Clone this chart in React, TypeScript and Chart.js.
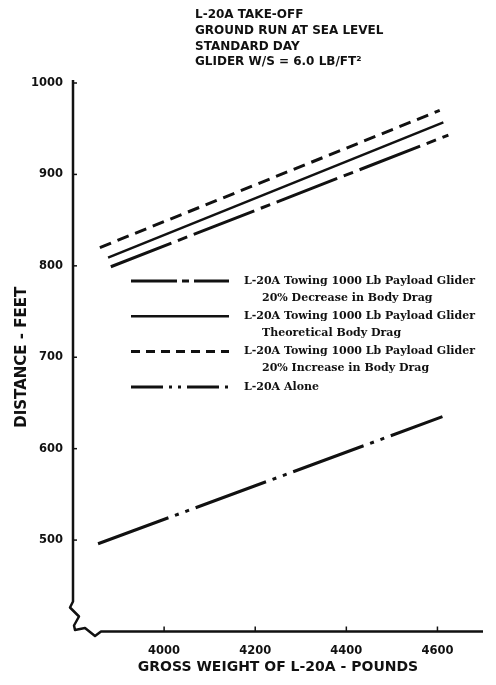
import React, { useEffect, useRef } from "react";
import { Chart, registerables } from "chart.js";

Chart.register(...registerables);

const INK = "#111111";

const titleLines = ["L-20A TAKE-OFF", "GROUND RUN AT SEA LEVEL", "STANDARD DAY", "GLIDER W/S = 6.0 LB/FT²"];
const xAxisTitle = "GROSS WEIGHT OF L-20A - POUNDS";
const yAxisTitle = "DISTANCE - FEET";
const xTickValues = [4000, 4200, 4400, 4600];
const yTickValues = [500, 600, 700, 800, 900, 1000];

const decreaseLabel = ["L-20A Towing 1000 Lb Payload Glider", "20% Decrease in Body Drag"];
const decreaseWeight = [3883, 4624];
const decreaseDistance = [799, 943];

const theoreticalLabel = ["L-20A Towing 1000 Lb Payload Glider", "Theoretical Body Drag"];
const theoreticalWeight = [3877, 4613];
const theoreticalDistance = [809, 957];

const increaseLabel = ["L-20A Towing 1000 Lb Payload Glider", "20% Increase in Body Drag"];
const increaseWeight = [3859, 4605];
const increaseDistance = [820, 970];

const aloneLabel = ["L-20A Alone"];
const aloneWeight = [3855, 4611];
const aloneDistance = [496, 635];

const legendLabels = [decreaseLabel, theoreticalLabel, increaseLabel, aloneLabel];
const legendDashes = [[46, 5, 7, 5], [], [9, 6], [32, 6, 3, 6, 3, 6]];
const legendWidths = [3, 2.5, 3, 3];

const toPoints = (xs: number[], ys: number[]) => xs.map((x, i) => ({ x, y: ys[i] }));

const decorPlugin = {
  id: "decor",
  afterDraw(chart: any) {
    const { ctx, chartArea: ca, scales } = chart;
    const xs = scales.x;
    const ys = scales.y;
    const L = ca.left;
    const B = ca.bottom;
    ctx.save();
    ctx.strokeStyle = INK;
    ctx.fillStyle = INK;
    ctx.lineWidth = 2.5;
    ctx.lineJoin = "round";
    ctx.setLineDash([]);
    // axes with break
    ctx.beginPath();
    ctx.moveTo(L, ca.top - 3);
    ctx.lineTo(L, B - 30);
    ctx.lineTo(L - 3, B - 24);
    ctx.lineTo(L + 6, B - 15);
    ctx.lineTo(L + 1, B - 6);
    ctx.lineTo(L + 2, B - 1.5);
    ctx.lineTo(L + 12, B - 3.5);
    ctx.lineTo(L + 22, B + 4.5);
    ctx.lineTo(L + 28, B);
    ctx.lineTo(ca.right, B);
    ctx.stroke();
    // tick marks
    ctx.lineWidth = 1.5;
    yTickValues.forEach((v) => {
      const py = ys.getPixelForValue(v);
      ctx.beginPath();
      ctx.moveTo(L, py);
      ctx.lineTo(L + 4, py);
      ctx.stroke();
    });
    xTickValues.forEach((v) => {
      const px = xs.getPixelForValue(v);
      ctx.beginPath();
      ctx.moveTo(px, B);
      ctx.lineTo(px, B - 5);
      ctx.stroke();
    });
    // title
    ctx.font = "bold 12px 'DejaVu Sans'";
    ctx.textAlign = "left";
    ctx.textBaseline = "middle";
    titleLines.forEach((t, i) => ctx.fillText(t, 195, 15 + i * 15.7));
    // legend
    const sx0 = 131;
    const sx1 = 229;
    const tx = 244;
    chart.data.datasets.forEach((ds: any, i: number) => {
      const ry = 281 + i * 35.3;
      ctx.strokeStyle = ds.borderColor;
      ctx.lineWidth = legendWidths[i];
      ctx.setLineDash(legendDashes[i]);
      ctx.beginPath();
      ctx.moveTo(sx0, ry);
      ctx.lineTo(sx1, ry);
      ctx.stroke();
      ctx.setLineDash([]);
      ctx.font = "bold 11px 'DejaVu Serif'";
      legendLabels[i].forEach((line, j) => {
        ctx.fillText(line, j === 0 ? tx : tx + 18, ry + j * 17);
      });
    });
    ctx.restore();
  },
};

export default function App() {
  const ref = useRef<HTMLCanvasElement | null>(null);
  useEffect(() => {
    if (!ref.current) return;
    const tickFont = { family: "'DejaVu Sans'", weight: "bold" as const, size: 11.5 };
    const chart = new Chart(ref.current, {
      type: "scatter",
      data: {
        datasets: [
          {
            label: decreaseLabel.join(" "),
            data: toPoints(decreaseWeight, decreaseDistance),
            showLine: true,
            borderColor: INK,
            borderWidth: 3,
            borderDash: [65, 7, 10, 7],
            pointRadius: 0,
          },
          {
            label: theoreticalLabel.join(" "),
            data: toPoints(theoreticalWeight, theoreticalDistance),
            showLine: true,
            borderColor: INK,
            borderWidth: 2.5,
            pointRadius: 0,
          },
          {
            label: increaseLabel.join(" "),
            data: toPoints(increaseWeight, increaseDistance),
            showLine: true,
            borderColor: INK,
            borderWidth: 3,
            borderDash: [12, 7],
            pointRadius: 0,
          },
          {
            label: aloneLabel.join(" "),
            data: toPoints(aloneWeight, aloneDistance),
            showLine: true,
            borderColor: INK,
            borderWidth: 3,
            borderDash: [75, 7, 4, 7, 4, 7],
            pointRadius: 0,
          },
        ],
      },
      options: {
        responsive: false,
        animation: false,
        layout: { padding: { top: 83, right: 13, left: 0, bottom: 0 } },
        plugins: { legend: { display: false }, tooltip: { enabled: false }, title: { display: false } },
        scales: {
          x: {
            type: "linear",
            min: 3800,
            max: 4700,
            grid: { display: false, drawTicks: false },
            border: { display: false },
            afterBuildTicks: (s: any) => {
              s.ticks = xTickValues.map((value) => ({ value }));
            },
            afterFit: (s: any) => {
              s.height = 53.5;
            },
            ticks: { color: INK, font: tickFont, padding: 13, maxRotation: 0, callback: (v: any) => String(v) },
            title: {
              display: true,
              text: xAxisTitle,
              color: INK,
              font: { family: "'DejaVu Sans'", weight: "bold", size: 14 },
              padding: { top: 0, bottom: 9 },
            },
          },
          y: {
            type: "linear",
            min: 400,
            max: 1000,
            grid: { display: false, drawTicks: false },
            border: { display: false },
            afterBuildTicks: (s: any) => {
              s.ticks = yTickValues.map((value) => ({ value }));
            },
            afterFit: (s: any) => {
              s.width = 73;
            },
            ticks: { color: INK, font: tickFont, padding: 10, callback: (v: any) => String(v) },
            title: {
              display: true,
              text: yAxisTitle,
              color: INK,
              font: { family: "'DejaVu Sans'", weight: "bold", size: 15 },
              padding: { top: 13, bottom: 0 },
            },
          },
        },
      },
      plugins: [decorPlugin],
    });
    return () => chart.destroy();
  }, []);
  return (
    <div style={{ position: "absolute", left: 0, top: 0, width: 496, height: 685, background: "#fff" }}>
      <canvas ref={ref} width={496} height={685} style={{ width: 496, height: 685, display: "block" }} />
    </div>
  );
}
